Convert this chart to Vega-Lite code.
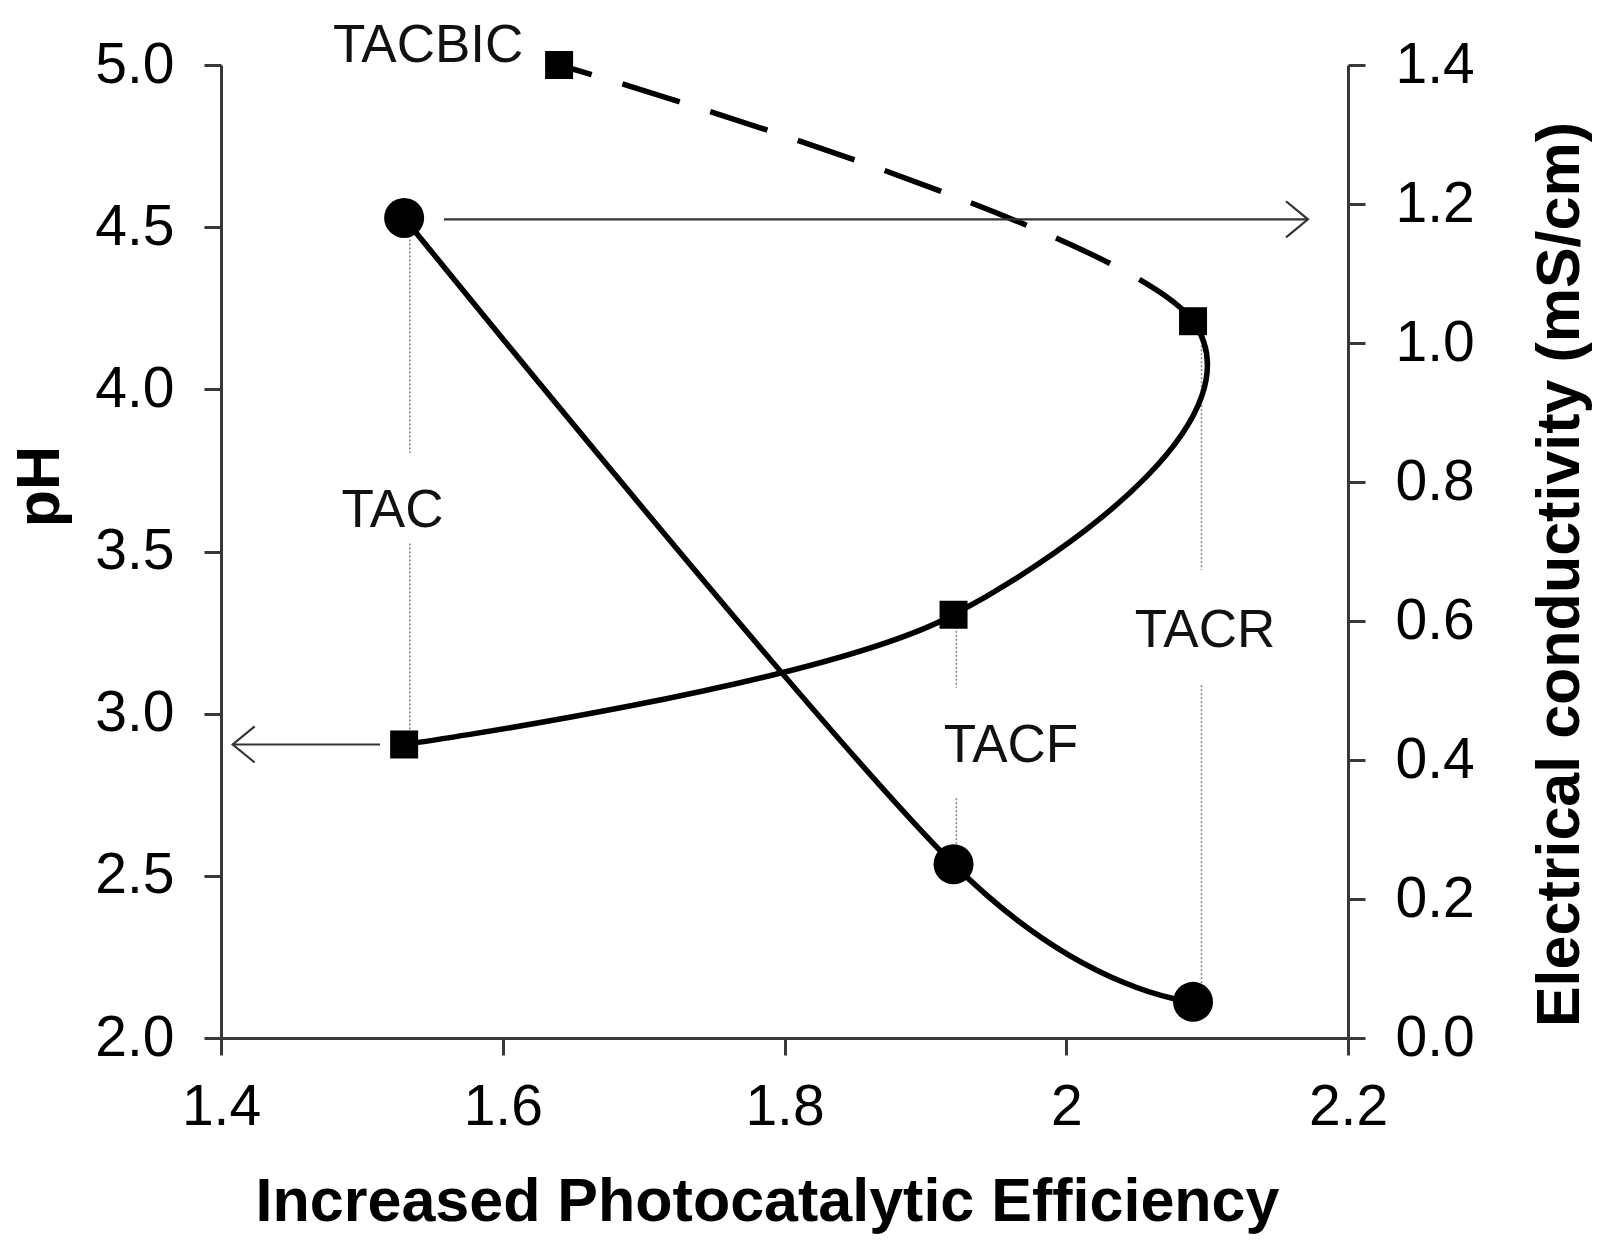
{
  "$schema": "https://vega.github.io/schema/vega-lite/v6.json",
  "width": 1127,
  "height": 973,
  "autosize": {"type": "none"},
  "padding": {"left": 221, "top": 65, "right": 263, "bottom": 222},
  "background": "white",
  "config": {
    "view": {"stroke": null},
    "axis": {
      "grid": false,
      "labelFont": "Liberation Sans",
      "labelFontSize": 57,
      "labelColor": "#000000",
      "labelPadding": 30,
      "labelFlush": false,
      "labelOverlap": false,
      "labelBound": false,
      "titleFont": "Liberation Sans",
      "titleFontSize": 61,
      "titleFontWeight": "bold",
      "titleColor": "#000000",
      "domainColor": "#383838",
      "domainWidth": 3,
      "tickColor": "#383838",
      "tickWidth": 3,
      "tickSize": 17
    }
  },
  "datasets": {
    "ph": [
      {"sample": "TAC", "seq": 1, "x": 1.53, "y": 2.905},
      {"sample": "TACF", "seq": 2, "x": 1.92, "y": 3.305},
      {"sample": "TACR", "seq": 3, "x": 2.09, "y": 4.21},
      {"sample": "TACBIC", "seq": 4, "x": 1.64, "y": 5.0}
    ],
    "cond": [
      {"sample": "TAC", "seq": 1, "x": 1.53, "y": 1.18},
      {"sample": "TACF", "seq": 2, "x": 1.92, "y": 0.25},
      {"sample": "TACR", "seq": 3, "x": 2.09, "y": 0.052}
    ],
    "drops": [
      {"x": 1.534, "y": 4.524, "y2": 3.804},
      {"x": 1.534, "y": 3.525, "y2": 2.905},
      {"x": 1.922, "y": 3.305, "y2": 3.08},
      {"x": 1.922, "y": 2.739, "y2": 2.537},
      {"x": 2.096, "y": 4.21, "y2": 3.443},
      {"x": 2.096, "y": 3.088, "y2": 2.112}
    ],
    "labels": [
      {"label": "TACBIC", "x": 1.547, "y": 5.009},
      {"label": "TAC", "x": 1.5217, "y": 3.5765},
      {"label": "TACF", "x": 1.9608, "y": 2.851},
      {"label": "TACR", "x": 2.0985, "y": 3.2047}
    ],
    "leftArrow": [{"x": 1.5129, "x2": 1.4083, "y": 2.905}],
    "rightArrow": [{"x": 1.5583, "x2": 2.1716, "y": 1.178}]
  },
  "layer": [
    {
      "encoding": {
        "x": {
          "field": "x",
          "type": "quantitative",
          "scale": {"domain": [1.4, 2.2], "nice": false, "zero": false},
          "axis": {
            "orient": "bottom",
            "values": [1.4, 1.6, 1.8, 2, 2.2],
            "format": "~g",
            "labelPadding": 24,
            "title": "Increased Photocatalytic Efficiency",
            "titleX": 546,
            "titleY": 182,
            "titleAlign": "center",
            "titleBaseline": "alphabetic"
          }
        },
        "y": {
          "field": "y",
          "type": "quantitative",
          "scale": {"domain": [2, 5], "nice": false, "zero": false},
          "axis": {
            "orient": "left",
            "values": [2, 2.5, 3, 3.5, 4, 4.5, 5],
            "format": ".1f",
            "title": "pH",
            "titleAngle": -90,
            "titleX": -163,
            "titleY": 421,
            "titleAlign": "center",
            "titleBaseline": "alphabetic"
          }
        }
      },
      "layer": [
        {
          "data": {"name": "drops"},
          "mark": {"type": "rule", "color": "#808080", "strokeWidth": 1.5, "strokeDash": [2, 2]},
          "encoding": {"y2": {"field": "y2"}}
        },
        {
          "data": {"name": "ph"},
          "mark": {
            "type": "line",
            "interpolate": "cardinal",
            "tension": 0,
            "color": "#000000",
            "strokeWidth": 5.5,
            "strokeDash": [1050, 33, 60, 32, 60, 32, 60, 32, 60, 32, 60, 32, 60, 32, 60, 32, 60, 32, 60, 32, 60, 32]
          },
          "encoding": {"order": {"field": "seq"}}
        },
        {
          "data": {"name": "ph"},
          "mark": {"type": "point", "shape": "square", "filled": true, "color": "#000000", "opacity": 1, "size": 784}
        },
        {
          "data": {"name": "leftArrow"},
          "mark": {"type": "rule", "color": "#333333", "strokeWidth": 2.2},
          "encoding": {"x2": {"field": "x2"}}
        },
        {
          "data": {"name": "leftArrow"},
          "mark": {
            "type": "point",
            "shape": "M 1 -0.82 L 0 0 L 1 0.82",
            "filled": false,
            "color": "#333333",
            "opacity": 1,
            "strokeWidth": 2.2,
            "size": 1936
          },
          "encoding": {"x": {"field": "x2", "type": "quantitative"}}
        },
        {
          "data": {"name": "labels"},
          "mark": {
            "type": "text",
            "font": "Liberation Sans",
            "fontSize": 53,
            "align": "center",
            "baseline": "alphabetic",
            "color": "#111111"
          },
          "encoding": {"text": {"field": "label"}}
        }
      ]
    },
    {
      "encoding": {
        "x": {
          "field": "x",
          "type": "quantitative",
          "scale": {"domain": [1.4, 2.2], "nice": false, "zero": false},
          "axis": {
            "orient": "bottom",
            "values": [1.4, 1.6, 1.8, 2, 2.2],
            "format": "~g",
            "labelPadding": 24,
            "title": "Increased Photocatalytic Efficiency",
            "titleX": 546,
            "titleY": 182,
            "titleAlign": "center",
            "titleBaseline": "alphabetic"
          }
        },
        "y": {
          "field": "y",
          "type": "quantitative",
          "scale": {"domain": [0, 1.4], "nice": false, "zero": false},
          "axis": {
            "orient": "right",
            "values": [0, 0.2, 0.4, 0.6, 0.8, 1.0, 1.2, 1.4],
            "format": ".1f",
            "title": "Electrical conductivity (mS/cm)",
            "titleAngle": -90,
            "titleX": 230,
            "titleY": 509,
            "titleAlign": "center",
            "titleBaseline": "alphabetic"
          }
        }
      },
      "layer": [
        {
          "data": {"name": "cond"},
          "mark": {"type": "line", "interpolate": "cardinal", "tension": 0, "color": "#000000", "strokeWidth": 5.5},
          "encoding": {"order": {"field": "seq"}}
        },
        {
          "data": {"name": "cond"},
          "mark": {"type": "point", "shape": "circle", "filled": true, "color": "#000000", "opacity": 1, "size": 1600}
        },
        {
          "data": {"name": "rightArrow"},
          "mark": {"type": "rule", "color": "#333333", "strokeWidth": 2.2},
          "encoding": {"x2": {"field": "x2"}}
        },
        {
          "data": {"name": "rightArrow"},
          "mark": {
            "type": "point",
            "shape": "M -1 -0.82 L 0 0 L -1 0.82",
            "filled": false,
            "color": "#333333",
            "opacity": 1,
            "strokeWidth": 2.2,
            "size": 1936
          },
          "encoding": {"x": {"field": "x2", "type": "quantitative"}}
        }
      ]
    }
  ],
  "resolve": {"scale": {"y": "independent"}}
}
